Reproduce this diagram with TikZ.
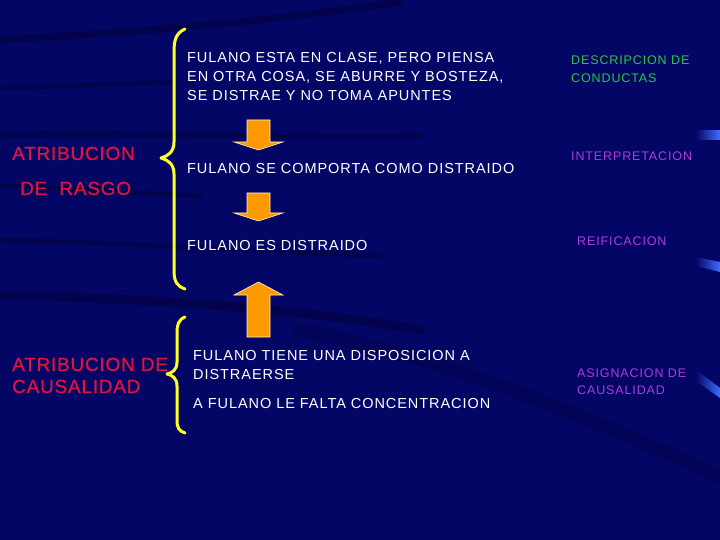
\documentclass[tikz,border=0pt]{standalone}
\usepackage{fontspec}
\setmainfont{Liberation Sans}
\definecolor{bgnavy}{RGB}{4,6,102}
\definecolor{streak}{RGB}{0,0,30}
\definecolor{txtred}{RGB}{222,20,60}
\definecolor{braceyel}{RGB}{255,255,40}
\definecolor{arrorange}{RGB}{255,153,0}
\definecolor{txtgreen}{RGB}{40,200,60}
\definecolor{txtviolet}{RGB}{170,60,220}
\definecolor{edgeblue}{RGB}{60,110,255}
\begin{document}
\begin{tikzpicture}[x=1pt,y=-1pt,
  wtext/.style={anchor=base west,inner sep=0pt,text=white,font=\fontsize{14.5}{17}\selectfont\addfontfeature{LetterSpace=6.5}},
  rtext/.style={anchor=base west,inner sep=0pt,text=txtred,font=\fontsize{19}{22}\selectfont\addfontfeature{LetterSpace=4,FakeBold=0.6}},
  gtext/.style={anchor=base west,inner sep=0pt,text=txtgreen,font=\fontsize{12.5}{15}\selectfont\addfontfeature{LetterSpace=7}},
  vtext/.style={anchor=base west,inner sep=0pt,text=txtviolet,font=\fontsize{12.5}{15}\selectfont\addfontfeature{LetterSpace=7}},
  bracepath/.style={draw=braceyel,line width=3pt,line cap=round,line join=round},
  bigarrow/.style={fill=arrorange,draw=white!85!arrorange,line width=0.6pt},
  streakline/.style={draw=streak,line cap=round,opacity=0.35}]
\fill[bgnavy] (0,0) rectangle (720,540);
\useasboundingbox (0,0) rectangle (720,540);
% background streaks
\draw[streakline,line width=7pt] (-5,40) .. controls (150,32) and (280,20) .. (400,2);
\draw[streakline,line width=5pt] (-5,88) .. controls (60,86) and (120,84) .. (170,82);
\draw[streakline,line width=6pt] (-5,135) .. controls (120,132) and (300,138) .. (420,136);
\draw[streakline,line width=5pt] (-5,186) .. controls (60,188) and (120,192) .. (200,196);
\draw[streakline,line width=5pt] (-5,240) .. controls (100,242) and (250,250) .. (380,256);
\draw[streakline,line width=9pt] (-5,295) .. controls (120,298) and (280,305) .. (420,330);
\draw[streakline,line width=14pt,opacity=0.2] (300,330) .. controls (450,360) and (600,420) .. (725,480);
% right edge highlights
\shade[left color=bgnavy,right color=edgeblue] (696,131) rectangle (720,140);
\shade[left color=bgnavy,right color=edgeblue] (696,257) -- (720,262) -- (720,272) -- (696,266) -- cycle;
\shade[left color=bgnavy,right color=edgeblue] (696,370) -- (720,388) -- (720,398) -- (696,381) -- cycle;
% braces
\draw[bracepath] (185,29) .. controls (176,33) and (174,40) .. (174,52)
  -- (174,142) .. controls (174,152) and (168,156) .. (161,158)
  .. controls (168,160) and (174,164) .. (174,174)
  -- (174,270) .. controls (174,282) and (177,286) .. (185,289);
\draw[bracepath] (185,317) .. controls (178,320) and (177,325) .. (177,334)
  -- (177,362) .. controls (177,370) and (172,373) .. (167,374)
  .. controls (172,375) and (177,378) .. (177,386)
  -- (177,420) .. controls (177,428) and (179,431) .. (185,433);
% orange arrows
\path[bigarrow] (247,120) -- (270,120) -- (270,142) -- (283,142) -- (258.5,150)
  -- (234,142) -- (247,142) -- cycle;
\path[bigarrow] (247,193) -- (270,193) -- (270,213) -- (283,213) -- (258.5,221)
  -- (234,213) -- (247,213) -- cycle;
\path[bigarrow] (247,337) -- (270,337) -- (270,295) -- (283,295) -- (258.5,282)
  -- (234,295) -- (247,295) -- cycle;
% white texts
\node[wtext] (b1a) at (187,62.5) {FULANO ESTA EN CLASE, PERO PIENSA};
\node[wtext] (b1b) at (187,81.5) {EN OTRA COSA, SE ABURRE Y BOSTEZA,};
\node[wtext] (b1c) at (187,100.5) {SE DISTRAE Y NO TOMA APUNTES};
\node[wtext] (b2) at (187,173.5) {FULANO SE COMPORTA COMO DISTRAIDO};
\node[wtext] (b3) at (187,250.5) {FULANO ES DISTRAIDO};
\node[wtext] (b4a) at (193,360.5) {FULANO TIENE UNA DISPOSICION A};
\node[wtext] (b4b) at (193,379.5) {DISTRAERSE};
\node[wtext] (b5) at (193,408.5) {A FULANO LE FALTA CONCENTRACION};
% red texts
\node[rtext] (r1) at (12,160) {ATRIBUCION};
\node[rtext] (r2) at (20,195) {DE\ \ RASGO};
\node[rtext] (r3) at (12,371) {ATRIBUCION DE};
\node[rtext] (r4) at (12,393) {CAUSALIDAD};
% right column
\node[gtext] (g1a) at (571,65) {DESCRIPCION DE};
\node[gtext] (g1b) at (571,83) {CONDUCTAS};
\node[vtext] (v1) at (571,161) {INTERPRETACION};
\node[vtext] (v2) at (577,245) {REIFICACION};
\node[vtext] (v3a) at (577,377) {ASIGNACION DE};
\node[vtext] (v3b) at (577,394) {CAUSALIDAD};
\end{tikzpicture}
\end{document}
